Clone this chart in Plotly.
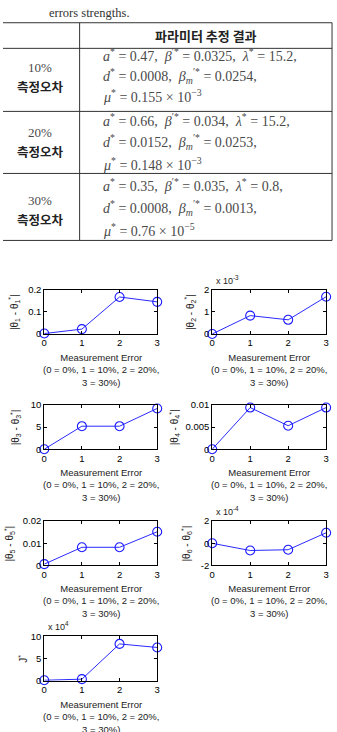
import plotly.graph_objects as go

W, H = 337, 732

# ---------------- table data ----------------
error_levels = ["10%", "20%", "30%"]
a_star = ["0.47", "0.66", "0.35"]
beta_star = ["0.0325", "0.034", "0.035"]
lambda_star = ["15.2", "15.2", "0.8"]
d_star = ["0.0008", "0.0152", "0.0008"]
beta_m_star = ["0.0254", "0.0253", "0.0013"]
mu_mantissa = ["0.155", "0.148", "0.76"]
mu_exponent = ["−3", "−3", "−5"]
header_text = "파라미터 추정 결과"
row_label = "측정오차"
caption = "errors strengths."

# ---------------- plot data ----------------
x_err = [0, 1, 2, 3]
x_ticks = [0, 1, 2, 3]
theta1 = [0.002, 0.022, 0.167, 0.145]
theta2 = [0.0, 0.83, 0.64, 1.68]        # x 10^-3
theta3 = [0.0, 5.2, 5.2, 9.2]
theta4 = [0.0, 0.0094, 0.0053, 0.0094]
theta5 = [0.0006, 0.0082, 0.0082, 0.0152]
theta6 = [0.0, -0.65, -0.58, 0.95]     # x 10^-4
J_star = [0.1, 0.35, 8.3, 7.5]          # x 10^4

series = [theta1, theta2, theta3, theta4, theta5, theta6, J_star]
y_ranges = [[0, 0.2], [0, 2], [0, 10], [0, 0.01], [0, 0.02], [-2, 2], [0, 10]]
y_tickvals = [[0, 0.1, 0.2], [0, 1, 2], [0, 5, 10], [0, 0.005, 0.01],
              [0, 0.01, 0.02], [-2, 0, 2], [0, 5, 10]]
y_ticktext = [["0", "0.1", "0.2"], ["0", "1", "2"], ["0", "5", "10"],
              ["0", "0.005", "0.01"], ["0", "0.01", "0.02"], ["-2", "0", "2"],
              ["0", "5", "10"]]
y_titles = [f"|θ<sub>{k}</sub> - θ<sub>{k}</sub><sup>*</sup>|" for k in range(1, 7)] + ["J<sup>*</sup>"]
exponents = [None, "-3", None, None, None, "-4", "4"]
x_title = "Measurement Error<br>(0 = 0%, 1 = 10%, 2 = 20%,<br>3 = 30%)"

# ---------------- layout helpers (pixel -> paper) ----------------
def px(x):
    return x / W

def py(y):
    return 1 - y / H

SERIF = "Liberation Serif, Times New Roman, serif"
SANS = "Liberation Sans, Arial, sans-serif"
KR = "Noto Sans CJK KR, sans-serif"
LINE = "#333333"
TXT = "#4a4a4a"

fig = go.Figure()
shapes = []
annotations = []

# ---------------- table ----------------
hlines = [17, 43, 107, 170, 238]
for yy in hlines:
    shapes.append(dict(type="line", xref="paper", yref="paper",
                       x0=px(0), x1=px(335), y0=py(yy), y1=py(yy),
                       line=dict(color=LINE, width=1)))
for xx in [78, 335]:
    shapes.append(dict(type="line", xref="paper", yref="paper",
                       x0=px(xx), x1=px(xx), y0=py(17), y1=py(238),
                       line=dict(color=LINE, width=1)))

annotations.append(dict(xref="paper", yref="paper", x=px(45), y=py(7),
                        xanchor="left", yanchor="middle", showarrow=False,
                        text=caption, font=dict(family=SERIF, size=12.5, color="#333")))
annotations.append(dict(xref="paper", yref="paper", x=px(207), y=py(30),
                        xanchor="center", yanchor="middle", showarrow=False,
                        text=f"<b>{header_text}</b>",
                        font=dict(family=KR, size=13, color="#222")))

label_y = [(62, 82), (128, 148), (197, 217)]
math_y = [(50, 71, 91), (116, 138, 160), (182, 205, 227)]
for i in range(3):
    annotations.append(dict(xref="paper", yref="paper", x=px(38), y=py(label_y[i][0]),
                            xanchor="center", yanchor="middle", showarrow=False,
                            text=error_levels[i], font=dict(family=SERIF, size=13, color=TXT)))
    annotations.append(dict(xref="paper", yref="paper", x=px(38), y=py(label_y[i][1]),
                            xanchor="center", yanchor="middle", showarrow=False,
                            text=f"<b>{row_label}</b>", font=dict(family=KR, size=12.5, color="#222")))
    lines = [
        f"<i>a</i><sup>*</sup> = {a_star[i]},  <i>β</i><sup>′*</sup> = {beta_star[i]},  <i>λ</i><sup>*</sup> = {lambda_star[i]},",
        f"<i>d</i><sup>*</sup> = {d_star[i]},  <i>β</i><sub><i>m</i></sub><sup>′*</sup> = {beta_m_star[i]},",
        f"<i>μ</i><sup>*</sup> = {mu_mantissa[i]} × 10<sup>{mu_exponent[i]}</sup>",
    ]
    for j, t in enumerate(lines):
        annotations.append(dict(xref="paper", yref="paper", x=px(100), y=py(math_y[i][j]),
                                xanchor="left", yanchor="middle", showarrow=False,
                                text=t, font=dict(family=SERIF, size=14, color=TXT)))

# ---------------- subplots ----------------
panel_pos = [(0, 0), (1, 0), (0, 1), (1, 1), (0, 2), (1, 2), (0, 3)]
col_x = [(42, 157), (213, 329)]
row_top = [288, 405, 523, 640]
ax_h = 45
ytitle_shift = [-30, -22, -29, -38, -35, -26, -22]

layout_axes = {}
for i, (c, r) in enumerate(panel_pos):
    n = i + 1
    sfx = "" if n == 1 else str(n)
    x0, x1 = col_x[c]
    top = row_top[r]
    fig.add_trace(go.Scatter(
        x=x_err, y=series[i], mode="lines+markers",
        xaxis="x" + sfx, yaxis="y" + sfx,
        line=dict(color="#2a2aff", width=1),
        marker=dict(symbol="circle-open", size=9, color="#1a1aff", line=dict(width=1.1)),
        cliponaxis=False, showlegend=False, hoverinfo="skip"))
    common = dict(showline=True, linecolor="black", linewidth=1, mirror="allticks",
                  ticks="inside", ticklen=3, tickcolor="black", showgrid=False,
                  zeroline=False, tickfont=dict(family=SANS, size=9.5, color="black"))
    layout_axes["xaxis" + sfx] = dict(domain=[px(x0), px(x1)], anchor="y" + sfx,
                                      range=[0, 3], tickvals=x_ticks,
                                      ticktext=[str(v) for v in x_ticks], **common)
    layout_axes["yaxis" + sfx] = dict(domain=[py(top + ax_h), py(top)], anchor="x" + sfx,
                                      range=y_ranges[i], tickvals=y_tickvals[i],
                                      ticktext=y_ticktext[i], **common)
    xr = ("x" if n == 1 else f"x{n}") + " domain"
    yr = ("y" if n == 1 else f"y{n}") + " domain"
    annotations.append(dict(xref=xr, yref=yr, x=0.5, y=0, xanchor="center", yanchor="top",
                            yshift=-16, showarrow=False, text=x_title,
                            font=dict(family=SANS, size=9.5, color="#222")))
    annotations.append(dict(xref=xr, yref=yr, x=0, y=0.5, xanchor="center", yanchor="middle",
                            xshift=ytitle_shift[i], textangle=-90, showarrow=False,
                            text=y_titles[i], font=dict(family=SANS, size=10, color="#222")))
    if exponents[i]:
        annotations.append(dict(xref=xr, yref=yr, x=0, y=1, xanchor="left", yanchor="bottom",
                                xshift=2, yshift=2, showarrow=False,
                                text=f"x 10<sup>{exponents[i]}</sup>",
                                font=dict(family=SANS, size=9, color="#222")))

fig.update_layout(width=W, height=H, margin=dict(l=0, r=0, t=0, b=0),
                  paper_bgcolor="white", plot_bgcolor="white",
                  shapes=shapes, annotations=annotations, showlegend=False,
                  **layout_axes)

fig.write_html("out.html", config={"displayModeBar": False})
